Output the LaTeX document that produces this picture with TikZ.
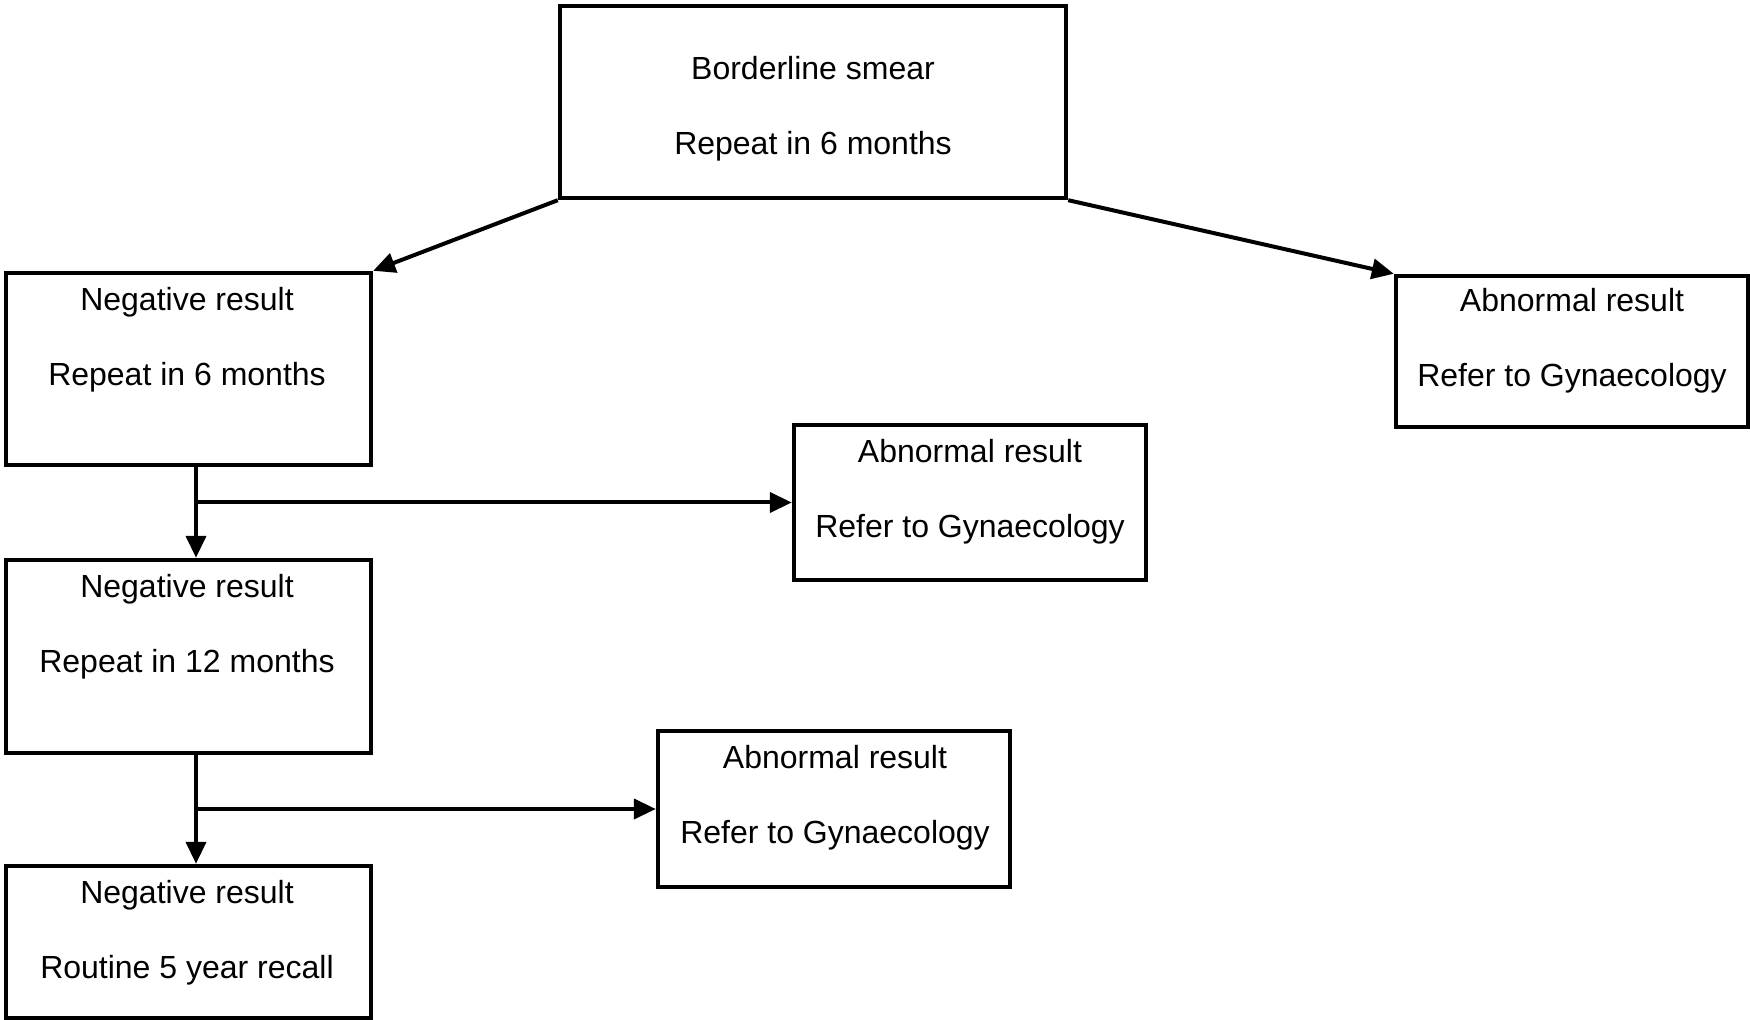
\documentclass[tikz,border=0pt]{standalone}
\usepackage{fontspec}
\setmainfont{Liberation Sans}
\usetikzlibrary{arrows.meta}
\begin{document}
\begin{tikzpicture}[x=0.5pt,y=-0.5pt,
  box/.style={draw=black,line width=2.2pt,rectangle,inner sep=0pt},
  txt/.style={align=center,inner sep=0pt,font={\fontsize{16pt}{37.5pt}\selectfont}},
  arr/.style={line width=2pt,-{Triangle[length=11pt,width=10pt]}},
  ln/.style={line width=2pt}]
\useasboundingbox[fill=white] (0,0) rectangle (1750,1020);
% boxes
\node[box,minimum width=253pt,minimum height=96pt] (top) at (813,102) {};
\node[box,minimum width=182.5pt,minimum height=96pt] (neg1) at (188.5,369) {};
\node[box,minimum width=176pt,minimum height=75.5pt] (abnR) at (1572,351.5) {};
\node[box,minimum width=176pt,minimum height=77.5pt] (m1) at (970,502.5) {};
\node[box,minimum width=182.5pt,minimum height=96.5pt] (neg2) at (188.5,656.5) {};
\node[box,minimum width=176pt,minimum height=78pt] (m2) at (834,809) {};
\node[box,minimum width=182.5pt,minimum height=76pt] (neg3) at (188.5,942) {};
% texts
\node[txt] (ttop) at (813,109) {Borderline smear\\Repeat in 6 months};
\node[txt] (tneg1) at (187,340) {Negative result\\Repeat in 6 months};
\node[txt] (tabnR) at (1572,341) {Abnormal result\\Refer to Gynaecology};
\node[txt] (tm1) at (970,492) {Abnormal result\\Refer to Gynaecology};
\node[txt] (tneg2) at (187,626.5) {Negative result\\Repeat in 12 months};
\node[txt] (tm2) at (835,797.5) {Abnormal result\\Refer to Gynaecology};
\node[txt] (tneg3) at (187,932.5) {Negative result\\Routine 5 year recall};
% connectors
\draw[arr] (top.south west) -- (neg1.north east);
\draw[arr] (top.south east) -- (abnR.north west);
\coordinate (v1) at (196,465);
\coordinate (b1) at (196,502.5);
\coordinate (v2) at (196,753);
\coordinate (b2) at (196,809);
\draw[arr] (neg1.south -| v1) -- (neg2.north -| v1);
\draw[arr] (b1) -- (m1.west);
\draw[arr] (neg2.south -| v2) -- (neg3.north -| v2);
\draw[arr] (b2) -- (m2.west);
\end{tikzpicture}
\end{document}
